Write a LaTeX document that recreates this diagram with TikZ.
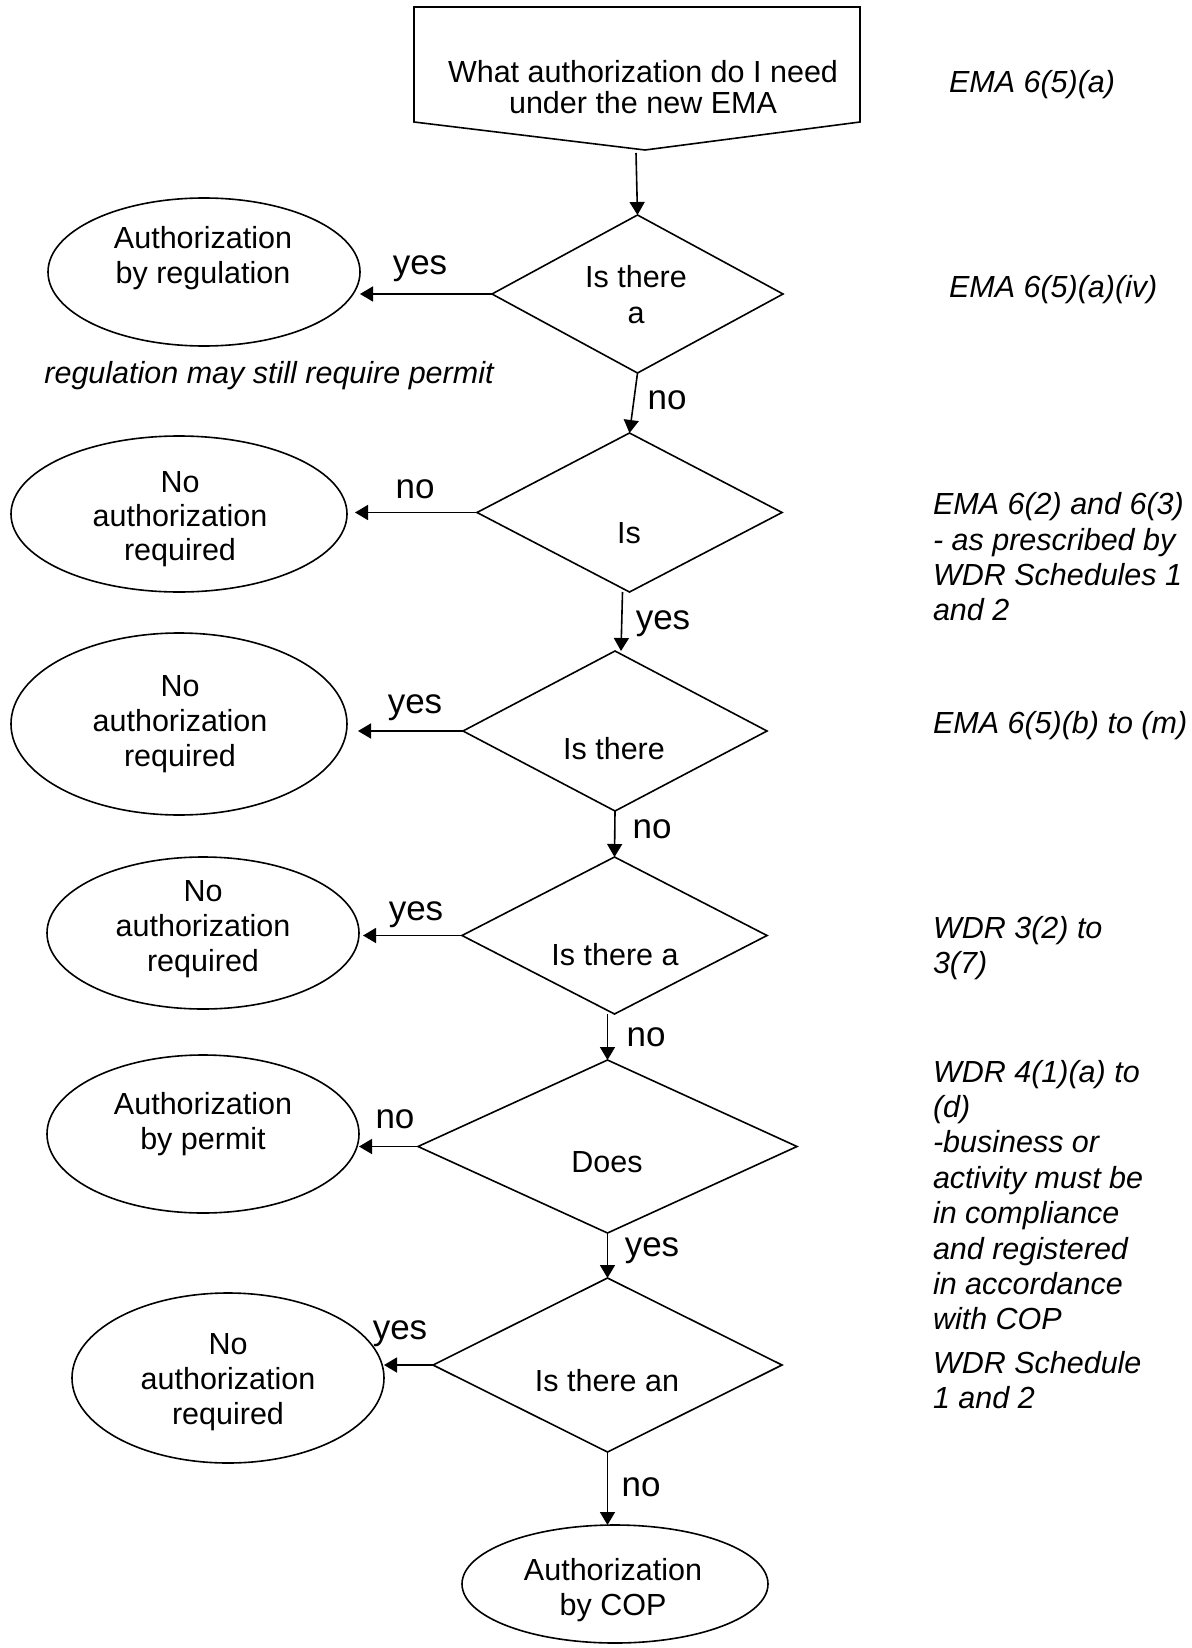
\documentclass[tikz,border=0pt]{standalone}
\usepackage{fontspec}
\setmainfont{Liberation Sans}
\usetikzlibrary{shapes.geometric,arrows.meta,calc}
\begin{document}
\begin{tikzpicture}[x=0.5pt,y=-0.5pt,
  every node/.style={inner sep=0pt, outer sep=0pt},
  arr/.style={line width=0.8pt,-{Triangle[length=6.5pt,width=7.5pt]}},
  dia/.style={draw,line width=0.8pt,diamond},
  ell/.style={draw,line width=0.8pt,ellipse},
  body/.style={font=\fontsize{15.25}{17}\selectfont, align=center},
  lab/.style={font=\fontsize{17.5}{20}\selectfont},
  note/.style={font=\fontsize{15.25}{17.7}\selectfont\itshape, align=left, anchor=west},
]
\useasboundingbox (0,0) rectangle (1192,1648);

% start box (off-page connector shape)
\coordinate (tbA) at (414,7);
\coordinate (tbB) at (860,7);
\coordinate (tbC) at (860,122);
\coordinate (tbP) at (645,150);
\coordinate (tbD) at (414,122);
\draw[line width=0.8pt] (tbA) -- (tbB) -- (tbC) -- (tbP) -- (tbD) -- cycle;
\node[body, font=\fontsize{15.25}{15.75}\selectfont] (q0) at (643,87) {What authorization do I need\\under the new EMA};
\coordinate (tbout) at (636,153);

% diamonds
\node[dia, minimum width=145.5pt, minimum height=79pt] (d1) at (637.5,294) {};
\node[dia, minimum width=152.5pt, minimum height=79.5pt] (d2) at (629.5,512.5) {};
\node[dia, minimum width=152pt, minimum height=80pt] (d3) at (615,731) {};
\node[dia, minimum width=152.5pt, minimum height=78.5pt] (d4) at (614.5,935.5) {};
\node[dia, minimum width=189.5pt, minimum height=86.5pt] (d5) at (607.5,1146.5) {};
\node[dia, minimum width=174.5pt, minimum height=87pt] (d6) at (607.5,1365) {};

\node[body, font=\fontsize{15.25}{18}\selectfont] (t1) at (636,295) {Is there\\a};
\node[body] (t2) at (629,533) {Is};
\node[body] (t3) at (614,749) {Is there};
\node[body] (t4) at (615,955) {Is there a};
\node[body] (t5) at (607,1162) {Does};
\node[body] (t6) at (607,1381) {Is there an};

% ellipses
\node[ell, minimum width=156pt, minimum height=74pt] (e1) at (204,272) {};
\node[ell, minimum width=168pt, minimum height=78pt] (e2) at (179,514) {};
\node[ell, minimum width=168pt, minimum height=91pt] (e3) at (179,724) {};
\node[ell, minimum width=156pt, minimum height=76pt] (e4) at (203,933) {};
\node[ell, minimum width=156pt, minimum height=79pt] (e5) at (203,1134) {};
\node[ell, minimum width=156pt, minimum height=85pt] (e6) at (228,1378) {};
\node[ell, minimum width=153pt, minimum height=59pt] (e7) at (615,1584) {};

\node[body, font=\fontsize{15.25}{17.3}\selectfont] (s1) at (203,258) {Authorization\\by regulation};
\node[body] (s2) at (180,519) {No\\authorization\\required};
\node[body, font=\fontsize{15.25}{17.5}\selectfont] (s3) at (180,724) {No\\authorization\\required};
\node[body, font=\fontsize{15.25}{17.5}\selectfont] (s4) at (203,929) {No\\authorization\\required};
\node[body, font=\fontsize{15.25}{17.5}\selectfont] (s5) at (203,1124) {Authorization\\by permit};
\node[body, font=\fontsize{15.25}{17.5}\selectfont] (s6) at (228,1382) {No\\authorization\\required};
\node[body, font=\fontsize{15.25}{17.5}\selectfont] (s7) at (613,1590) {Authorization\\by COP};

% connectors
\draw[arr] (tbout) -- (d1.north);
\draw[arr] (d1.south) -- (d2.north);
\draw[arr] ($(d2.south)+(-7,0)$) -- ($(d3.north)+(6,0)$);
\draw[arr] (d3.south) -- (d4.north);
\draw[arr] (d5.north |- d4.south) -- (d5.north);
\draw[arr] (d5.south) -- (d6.north);
\draw[arr] (d6.south) -- (d6.south |- e7.north);

\draw[arr] (d1.west) -- (d1.west -| e1.east);
\draw[arr] (d2.west) -- ($(d2.west -| e2.east)+(8,0)$);
\draw[arr] (d3.west) -- ($(d3.west -| e3.east)+(11,0)$);
\draw[arr] (d4.west) -- ($(d4.west -| e4.east)+(4,0)$);
\draw[arr] (d5.west) -- (d5.west -| e5.east);
\draw[arr] (d6.west) -- (d6.west -| e6.east);

% labels
\node[lab] (l1) at (420,269) {yes};
\node[lab] (l2) at (667,400) {no};
\node[lab] (l3) at (415,489) {no};
\node[lab] (l4) at (663,624) {yes};
\node[lab] (l5) at (415,708) {yes};
\node[lab] (l6) at (652,829) {no};
\node[lab] (l7) at (416,915) {yes};
\node[lab] (l8) at (646,1037) {no};
\node[lab] (l9) at (395,1119) {no};
\node[lab] (l10) at (652,1251) {yes};
\node[lab] (l11) at (400,1334) {yes};
\node[lab] (l12) at (641,1487) {no};

% notes
\node[font=\fontsize{15.25}{17}\selectfont\itshape] (c1) at (269,376) {regulation may still require permit};
\node[note] (n1) at (949,85) {EMA 6(5)(a)};
\node[note] (n2) at (949,290) {EMA 6(5)(a)(iv)};
\node[note] (n3) at (933,557) {EMA 6(2) and 6(3)\\- as prescribed by\\WDR Schedules 1\\and 2};
\node[note] (n4) at (933,726) {EMA 6(5)(b) to (m)};
\node[note] (n5) at (933,948) {WDR 3(2) to\\3(7)};
\node[note] (n6) at (933,1195) {WDR 4(1)(a) to\\(d)\\-business or\\activity must be\\in compliance\\and registered\\in accordance\\with COP};
\node[note] (n7) at (933,1380) {WDR Schedule\\1 and 2};
\end{tikzpicture}
\end{document}
